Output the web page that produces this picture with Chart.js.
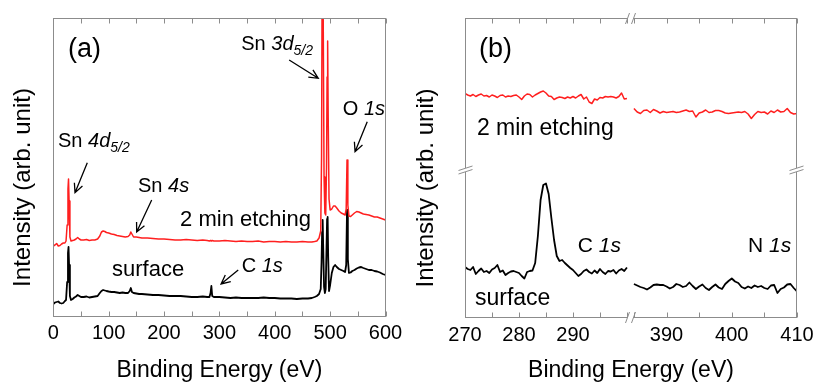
<!DOCTYPE html>
<html><head><meta charset="utf-8">
<script src="https://cdn.jsdelivr.net/npm/chart.js@4.4.1/dist/chart.umd.min.js"></script>
<style>
html,body{margin:0;padding:0;background:#fff;}
#wrap{position:relative;width:814px;height:384px;overflow:hidden;background:#fff;}
#ca{position:absolute;left:0;top:0;width:414px;height:384px;}
#cb{position:absolute;left:400px;top:0;width:440px;height:384px;}
</style></head><body>
<div id="wrap"><canvas id="ca" width="414" height="384"></canvas><canvas id="cb" width="440" height="384"></canvas></div>
<script>
// ---------- DATA ----------
// Panel (a): survey spectra
const surveyEnergy = [0,3,6,9,12,15,18,21,23,25,26.5,27.5,28.5,30,32,35,38,41,44,47,50,55,60,65,70,75,80,84,87,90,93,96,100,105,110,115,120,125,130,135,138,140,142,145,150,155,160,170,180,190,200,210,220,230,240,250,260,270,278,282,284,285.5,287,290,300,310,320,330,340,350,360,370,380,390,400,410,420,430,440,450,460,467,472,476,480,483,484.5,485.5,486.5,487.5,489,490.5,492,493.5,494.5,495.5,496.5,498,500,503,506,509,512,516,520,524,527,529,530.5,532,534,537,540,544,548,552,556,560,565,570,575,580,585,590,595,600];
const surveyEtched = [71,72,73.5,71,71.5,73,74,74,76,92,128,138,116,80,76,76.5,77,78,79.5,78,77,77,77.5,76.5,77,77,78,81,85,86,85.5,84.5,84,83,82.5,81.5,81,80.5,80,80.5,82,85,83,80,80,79.5,79,79,78.5,78,78,77.5,77,77,77.5,77,76.5,77,76.5,76,76.5,76,76.5,76,76,76.5,76,75.5,76,75.5,75.5,76,75,75.5,75.5,75,75.5,75,75,75.5,75,75,75.5,76,79,86,160,330,345,300,140,104,102,150,240,276,200,118,107,108,111,111,109,106,104,103,102,108,157,112,101,100.5,102,104,105.5,105,104,103,102.5,102,101,100,100,99,98,97];
const surveySurface = [13,14.5,15,15.5,14,13.5,14,16,17,35,64,70,52,21,17,18,19.5,20.5,22,21,20,20,20.5,19.5,20,20.5,21,24,26,27,26.5,26,25.5,25,25,24.5,24,24.5,24,24,26,29,25,24,23.5,23,23,22.5,22,22,21.5,21,21,21,20.5,20,20,20.5,20,20,24,31,21,20,20,19.5,19,19.5,19,19,19,19,19.5,19,19,18.5,18.5,18.5,18,18.5,18.5,19,20,21,23,28,55,85,97,70,30,24,28,70,98,100,60,26,32,44,50,52,50,48,47,46,45,52,107,58,44,44.5,46,47,48.5,49.5,50,49,48,47,47,46,45.5,44.5,43,42];
const surveyTickLabels = [0,100,200,300,400,500,600];

// Panel (b): C 1s window and N 1s window
const c1sEnergy = [270,270.5,271,271.5,272,272.5,273,273.5,274,274.5,275,275.5,276,276.5,277,277.5,278,278.5,279,279.5,280,280.5,281,281.5,282,282.5,283,283.5,284,284.5,285,285.5,286,286.5,287,287.5,288,288.5,289,289.5,290,290.5,291,291.5,292,292.5,293,293.5,294,294.5,295,295.5,296,296.5,297,297.5,298,298.5,299,299.5,300];
const c1sEtched = [224.5,223,222,223.5,221.5,223,224,222,222.5,221,223,222,220.5,222.5,223,221,222,221.5,222.5,223,221,218.5,222,224,223.5,221,223,224.5,226,227,225,222,221.5,218.5,220,221,220.5,219.5,221,220,221.5,220,222,223.5,219,221,216,214.5,219,218,220.5,220,221.5,221,221.5,221,220,221.5,225,219,219.5];
const c1sSurface = [51,49,48,51,44,47,49.5,46,47,45,48.5,50,53,46,47.5,43,45,46.5,47,46,45,42,39.5,46,47,47.5,55,82,118,133,134.5,124,100,78,62,57,58,55,52.5,50,48,45,42,44,47,48.5,46,44.5,47.5,45,49,46,44,47,46.5,48,44.5,47.5,49,47,50.5];
const n1sEnergy = [385,385.5,386,386.5,387,387.5,388,388.5,389,389.5,390,390.5,391,391.5,392,392.5,393,393.5,394,394.5,395,395.5,396,396.5,397,397.5,398,398.5,399,399.5,400,400.5,401,401.5,402,402.5,403,403.5,404,404.5,405,405.5,406,406.5,407,407.5,408,408.5,409,409.5,410];
const n1sEtched = [209.5,206,204.5,207.5,208,205.5,208.5,207,205,206.5,205.5,206,206.5,205.5,206,207,208,206.5,207,201,205,206,208,205.5,206,207.5,207.5,206.5,205,204.5,205,205.5,206,205.5,206.5,204,199.5,203.5,206.5,205.5,206,204,207,205.5,208,206,206.5,209.5,205.5,204,204.5];
const n1sSurface = [34,32.5,31,30,28.5,30.5,33,33.5,33,33,31.5,29.5,31,34,33,31,32,35.5,32,29,31.5,33.5,30,28,31,33.5,30.5,29,34,37,39.5,36.5,35,31,29.5,31.5,30,32.5,31,32,30,29,32.5,33,25,29,30.5,33.5,34,30,26.5];
const c1sTickLabels = [270,280,290];
const n1sTickLabels = [390,400,410];

// ---------- STYLE ----------
const FONT = "'Liberation Sans', Arial, Helvetica, sans-serif";
const FRAME = '#8c8c8c';
const RED = '#ff1f1f';
const BLACK = '#000000';
Chart.defaults.font.family = FONT;

const pts = (xs, ys) => xs.map((x, i) => ({x: x, y: ys[i]}));

function richText(ctx, x, y, parts, size) {
  let cx = x;
  ctx.textAlign = 'left'; ctx.textBaseline = 'alphabetic'; ctx.fillStyle = '#000';
  for (const p of parts) {
    const s = p.sub ? size * 0.7 : size;
    ctx.font = (p.it ? 'italic ' : '') + s + 'px ' + FONT;
    ctx.fillText(p.t, cx, y + (p.sub ? size * 0.27 : 0));
    cx += ctx.measureText(p.t).width;
  }
}
function arrow(ctx, x1, y1, x2, y2) {
  const ang = Math.atan2(y2 - y1, x2 - x1), L = 10, w = 0.45;
  ctx.beginPath();
  ctx.moveTo(x1, y1); ctx.lineTo(x2, y2);
  ctx.moveTo(x2 - L * Math.cos(ang - w), y2 - L * Math.sin(ang - w));
  ctx.lineTo(x2, y2);
  ctx.lineTo(x2 - L * Math.cos(ang + w), y2 - L * Math.sin(ang + w));
  ctx.stroke();
}

const decor = {
  id: 'decor',
  afterDraw(chart, args, o) {
    const {ctx, chartArea: a} = chart;
    ctx.save();
    // frame
    ctx.strokeStyle = FRAME; ctx.lineWidth = 1;
    const L = Math.round(a.left) + 0.5, R = Math.round(a.right) - 0.5, T = Math.round(a.top) + 0.5, B = Math.round(a.bottom) - 0.5;
    ctx.strokeRect(L, T, R - L, B - T);
    // inward ticks on bottom and top
    for (const id of o.xIds) {
      const s = chart.scales[id];
      ctx.beginPath();
      for (const t of s.ticks) {
        if (t.value < s.min || t.value > s.max) continue;
        const px = Math.round(s.getPixelForValue(t.value)) + 0.5;
        ctx.moveTo(px, B); ctx.lineTo(px, B - 5);
        ctx.moveTo(px, T); ctx.lineTo(px, T + 5);
      }
      ctx.stroke();
    }
    // axis breaks
    if (o.breakX) {
      const x = chart.scales.x1.right;
      for (const y of [T, B]) {
        ctx.fillStyle = '#fff'; ctx.fillRect(x - 3, y - 2, 6, 4);
        ctx.beginPath();
        ctx.moveTo(x - 5.5, y + 5.5); ctx.lineTo(x - 1.5, y - 5.5);
        ctx.moveTo(x + 0.5, y + 5.5); ctx.lineTo(x + 4.5, y - 5.5);
        ctx.stroke();
      }
      const y = chart.scales.y.getPixelForValue(o.breakY);
      for (const xx of [L, R]) {
        ctx.fillStyle = '#fff'; ctx.fillRect(xx - 2, y - 2, 4, 4);
        ctx.beginPath();
        ctx.moveTo(xx - 7, y + 0.5); ctx.lineTo(xx + 7, y - 4);
        ctx.moveTo(xx - 7, y + 4); ctx.lineTo(xx + 7, y - 0.5);
        ctx.stroke();
      }
    }
    // y title
    ctx.save();
    ctx.translate(o.yTitleX, (a.top + a.bottom) / 2 + o.yTitleShift);
    ctx.rotate(-Math.PI / 2);
    ctx.font = '24px ' + FONT; ctx.fillStyle = '#000';
    ctx.textAlign = 'center'; ctx.textBaseline = 'middle';
    ctx.fillText('Intensity (arb. unit)', 0, 0);
    ctx.restore();
    // labels
    const ys = chart.scales.y;
    for (const n of o.notes) {
      const xs = chart.scales[n.axis || 'x'];
      richText(ctx, xs.getPixelForValue(n.x), ys.getPixelForValue(n.y), n.parts, n.size);
    }
    ctx.strokeStyle = '#000'; ctx.lineWidth = 1.3;
    for (const ar of o.arrows || []) {
      const xs = chart.scales[ar.axis || 'x'];
      arrow(ctx, xs.getPixelForValue(ar.from[0]), ys.getPixelForValue(ar.from[1]),
                 xs.getPixelForValue(ar.to[0]), ys.getPixelForValue(ar.to[1]));
    }
    ctx.restore();
  }
};

const tickFont = {family: FONT, size: 20};
const noGrid = {display: false, drawTicks: false};

// ---------- PANEL (a) ----------
new Chart(document.getElementById('ca'), {
  type: 'line',
  data: {datasets: [
    {label: '2 min etching', data: pts(surveyEnergy, surveyEtched), borderColor: RED, borderWidth: 1.5, pointRadius: 0, borderJoinStyle: 'round'},
    {label: 'surface', data: pts(surveyEnergy, surveySurface), borderColor: BLACK, borderWidth: 1.8, pointRadius: 0, borderJoinStyle: 'round'}
  ]},
  options: {
    responsive: false, animation: false, events: [],
    layout: {padding: {top: 18, right: 28.5, left: 0, bottom: 0}},
    plugins: {legend: {display: false}, tooltip: {enabled: false},
      decor: {
        xIds: ['x'], yTitleX: 23, yTitleShift: 20,
        notes: [
          {parts: [{t: '(a)'}], x: 26.5, y: 260.5, size: 27},
          {parts: [{t: 'Sn '}, {t: '3d', it: 1}, {t: '5/2', it: 1, sub: 1}], x: 339.5, y: 267, size: 20},
          {parts: [{t: 'O '}, {t: '1s', it: 1}], x: 523, y: 202, size: 20},
          {parts: [{t: 'Sn '}, {t: '4d', it: 1}, {t: '5/2', it: 1, sub: 1}], x: 8.5, y: 170, size: 20},
          {parts: [{t: 'Sn '}, {t: '4s', it: 1}], x: 153, y: 125, size: 20},
          {parts: [{t: '2 min etching'}], x: 229, y: 91, size: 22},
          {parts: [{t: 'surface'}], x: 106, y: 41, size: 22},
          {parts: [{t: 'C '}, {t: '1s', it: 1}], x: 340.3, y: 45.3, size: 20}
        ],
        arrows: [
          {from: [426, 257], to: [478.5, 238.7]},
          {from: [567, 195.3], to: [545, 165.3]},
          {from: [61.4, 154.3], to: [39.2, 124.3]},
          {from: [177.7, 117], to: [150.6, 85]},
          {from: [334, 47], to: [303, 33]}
        ]
      }
    },
    scales: {
      x: {type: 'linear', min: 0, max: 600,
        ticks: {stepSize: 50, autoSkip: false, maxRotation: 0, padding: 4, font: tickFont, color: '#000',
          callback: v => surveyTickLabels.includes(v) ? String(v) : ''},
        grid: noGrid, border: {display: false},
        title: {display: true, text: 'Binding Energy (eV)', font: {family: FONT, size: 23}, color: '#000', padding: {top: 0, bottom: 0}},
        afterFit: s => { s.height = 67; }},
      y: {type: 'linear', min: 0, max: 299, ticks: {display: false}, grid: noGrid, border: {display: false},
        afterFit: s => { s.width = 53.3; }}
    }
  },
  plugins: [decor]
});

// ---------- PANEL (b) ----------
const xTickOpts = (labels) => ({stepSize: 5, includeBounds: false, autoSkip: false, maxRotation: 0, padding: 5, font: tickFont, color: '#000',
  callback: v => labels.includes(v) ? String(v) : ''});
new Chart(document.getElementById('cb'), {
  type: 'line',
  data: {datasets: [
    {data: pts(c1sEnergy, c1sEtched), xAxisID: 'x1', borderColor: RED, borderWidth: 1.5, pointRadius: 0, borderJoinStyle: 'round'},
    {data: pts(n1sEnergy, n1sEtched), xAxisID: 'x2', borderColor: RED, borderWidth: 1.5, pointRadius: 0, borderJoinStyle: 'round'},
    {data: pts(c1sEnergy, c1sSurface), xAxisID: 'x1', borderColor: BLACK, borderWidth: 1.8, pointRadius: 0, borderJoinStyle: 'round'},
    {data: pts(n1sEnergy, n1sSurface), xAxisID: 'x2', borderColor: BLACK, borderWidth: 1.8, pointRadius: 0, borderJoinStyle: 'round'}
  ]},
  options: {
    responsive: false, animation: false, events: [],
    layout: {padding: {top: 18, right: 43, left: 0, bottom: 0}},
    plugins: {legend: {display: false}, tooltip: {enabled: false},
      title: {display: true, text: 'Binding Energy (eV)', position: 'bottom', fullSize: false,
        font: {family: FONT, size: 23, weight: 'normal'}, color: '#000', padding: {top: 0, bottom: 0}},
      decor: {
        xIds: ['x1', 'x2'], breakX: true, breakY: 148, yTitleX: 26, yTitleShift: 20,
        notes: [
          {axis: 'x1', parts: [{t: '(b)'}], x: 272.6, y: 261.5, size: 27},
          {axis: 'x1', parts: [{t: '2 min etching'}], x: 272.2, y: 183.5, size: 23},
          {axis: 'x1', parts: [{t: 'surface'}], x: 271.85, y: 13, size: 23},
          {axis: 'x1', parts: [{t: 'C '}, {t: '1s', it: 1}], x: 290.9, y: 66.3, size: 21},
          {axis: 'x2', parts: [{t: 'N '}, {t: '1s', it: 1}], x: 402.5, y: 66.3, size: 21}
        ]
      }
    },
    scales: {
      x1: {type: 'linear', position: 'bottom', stack: 'bx', stackWeight: 1, min: 270, max: 300.75,
        ticks: xTickOpts(c1sTickLabels), grid: noGrid, border: {display: false},
        afterFit: s => { s.height = 38.4; }},
      x2: {type: 'linear', position: 'bottom', stack: 'bx', stackWeight: 1, min: 384.55, max: 410,
        ticks: xTickOpts(n1sTickLabels), grid: noGrid, border: {display: false},
        afterFit: s => { s.height = 38.4; }},
      y: {type: 'linear', min: 0, max: 300, ticks: {display: false}, grid: noGrid, border: {display: false},
        afterFit: s => { s.width = 65; }}
    }
  },
  plugins: [decor]
});
</script>
</body></html>
